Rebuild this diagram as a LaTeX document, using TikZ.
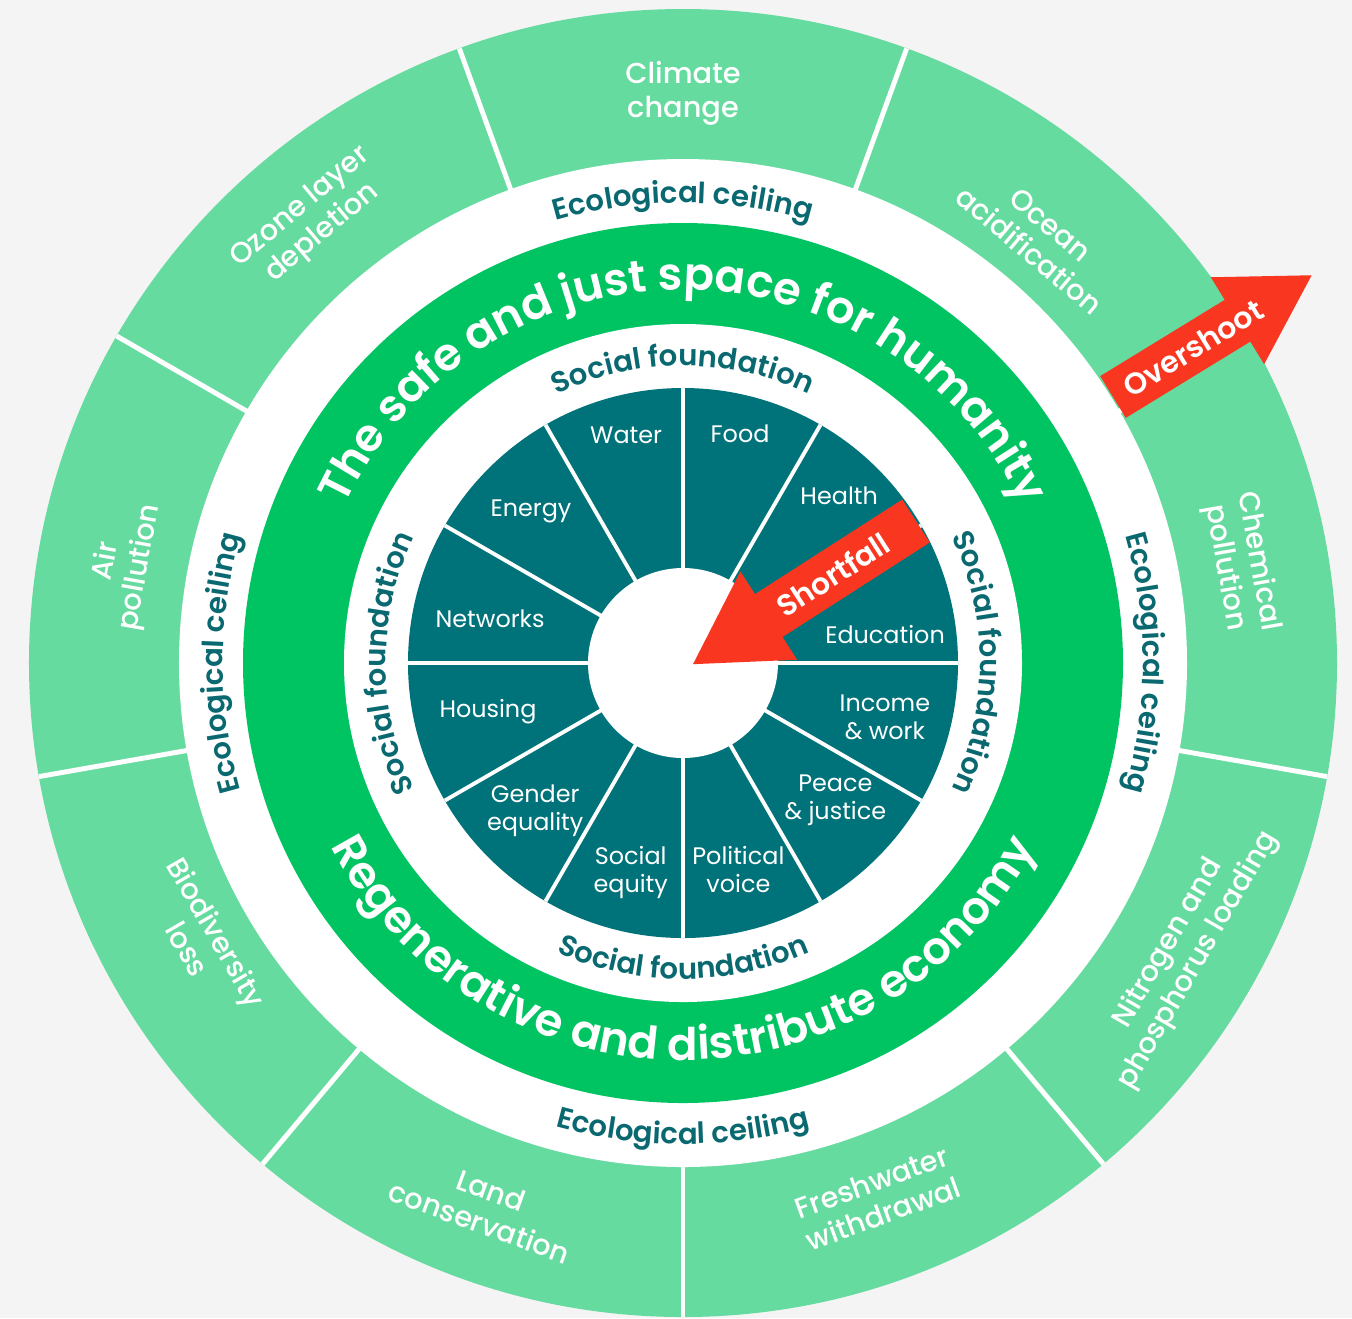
\documentclass[tikz,border=0pt]{standalone}
\usepackage{fontspec}
\setmainfont{Poppins}
\newfontfamily\medfont{Poppins Medium}
\newfontfamily\semifont{Poppins SemiBold}
\usepackage{tikz}
\usetikzlibrary{decorations.text}

\definecolor{pagegray}{HTML}{F4F4F4}
\definecolor{ceilgreen}{HTML}{66DBA0}
\definecolor{bandgreen}{HTML}{00C462}
\definecolor{needteal}{HTML}{00737A}
\definecolor{ringteal}{HTML}{0A6970}
\definecolor{arrowred}{HTML}{F93720}

% fonts for the curved ring texts
\newcommand\ringfont{\semifont\fontsize{8.3}{10}\selectfont\color{ringteal}}
\newcommand\bandfont{\semifont\fontsize{12.8}{15}\selectfont\color{white}}

\begin{document}
\begin{tikzpicture}[
    seglabel/.style={text=white, align=center, font=\medfont\fontsize{8.2}{9.6}\selectfont},
    needlabel/.style={text=white, align=center, font=\fontsize{6.8}{8}\selectfont},
    arrowlabel/.style={text=white, font=\semifont\fontsize{8.5}{10}\selectfont},
    sep/.style={white, line width=1.4pt},
    needsep/.style={white, line width=1.1pt}
  ]
    \fill[pagegray] (-6.83,-6.55) rectangle (6.69,6.63);
    \useasboundingbox (-6.83,-6.55) rectangle (6.69,6.63);

    % ecological ceiling ring
    \fill[ceilgreen] (0,0) circle (6.54);
    \fill[white] (0,0) circle (5.04);
    \draw[sep] (110:5.0) -- (110:6.54);
    \draw[sep] (70:5.0) -- (70:6.54);
    \draw[sep] (30:5.0) -- (30:6.54);
    \draw[sep] (-10:5.0) -- (-10:6.54);
    \draw[sep] (-50:5.0) -- (-50:6.54);
    \draw[sep] (-90:5.0) -- (-90:6.54);
    \draw[sep] (-130:5.0) -- (-130:6.54);
    \draw[sep] (-170:5.0) -- (-170:6.54);
    \draw[sep] (150:5.0) -- (150:6.54);

    % safe and just space
    \fill[bandgreen] (0,0) circle (4.40);
    \fill[white] (0,0) circle (3.39);

    % social foundation
    \fill[needteal] (0,0) circle (2.75);
    \draw[needsep] (0:0.9) -- (0:2.75);
    \draw[needsep] (30:0.9) -- (30:2.75);
    \draw[needsep] (60:0.9) -- (60:2.75);
    \draw[needsep] (90:0.9) -- (90:2.75);
    \draw[needsep] (120:0.9) -- (120:2.75);
    \draw[needsep] (150:0.9) -- (150:2.75);
    \draw[needsep] (180:0.9) -- (180:2.75);
    \draw[needsep] (210:0.9) -- (210:2.75);
    \draw[needsep] (240:0.9) -- (240:2.75);
    \draw[needsep] (270:0.9) -- (270:2.75);
    \draw[needsep] (300:0.9) -- (300:2.75);
    \draw[needsep] (330:0.9) -- (330:2.75);
    \fill[white] (0,0) circle (0.95);

    % outer labels
    \node[seglabel] (climate) at (90:5.70) {Climate\\change};
    \node[seglabel, rotate=-40] (ocean) at (50:5.55) {Ocean\\acidification};
    \node[seglabel, rotate=-80] (chemical) at (10:5.67) {Chemical\\pollution};
    \node[seglabel, rotate=60] (nitrogen) at (-30:5.78) {Nitrogen and\\phosphorus loading};
    \node[seglabel, rotate=20] (freshwater) at (-70:5.69) {Freshwater\\withdrawal};
    \node[seglabel, rotate=-20] (land) at (-110:5.78) {Land\\conservation};
    \node[seglabel, rotate=-60] (biodiv) at (-150:5.55) {Biodiversity\\loss};
    \node[seglabel, rotate=80] (air) at (170:5.68) {Air\\pollution};
    \node[seglabel, rotate=40] (ozone) at (130:5.78) {Ozone layer\\depletion};

    % inner labels
    \node[needlabel] (water) at (104:2.35) {Water};
    \node[needlabel] (food) at (76:2.36) {Food};
    \node[needlabel] (health) at (47:2.29) {Health};
    \node[needlabel] (education) at (8:2.04) {Education};
    \node[needlabel] (income) at (-15:2.09) {Income\\\& work};
    \node[needlabel] (peace) at (-42:2.05) {Peace\\\& justice};
    \node[needlabel] (political) at (-75:2.14) {Political\\voice};
    \node[needlabel] (equity) at (-104:2.16) {Social\\equity};
    \node[needlabel] (gender) at (-135:2.09) {Gender\\equality};
    \node[needlabel] (housing) at (-166:2.01) {Housing};
    \node[needlabel] (networks) at (167:1.98) {Networks};
    \node[needlabel] (energy) at (135:2.15) {Energy};

    % curved ring texts
    \path[decorate, decoration={text along path, text align=center,
        text={|\ringfont|Ecological ceiling}}] (200:4.60) arc[start angle=200, end angle=-20, radius=4.60];
    \path[decorate, decoration={text along path, text align=center,
        text={|\ringfont|Ecological ceiling}}] (80:4.60) arc[start angle=80, end angle=-80, radius=4.60];
    \path[decorate, decoration={text along path, text align=center,
        text={|\ringfont|Ecological ceiling}}] (260:4.60) arc[start angle=260, end angle=100, radius=4.60];
    \path[decorate, decoration={text along path, text align=center,
        text={|\ringfont|Ecological ceiling}}] (160:4.81) arc[start angle=160, end angle=380, radius=4.81];

    \path[decorate, decoration={text along path, text align=center,
        text={|\ringfont|Social foundation}}] (200:2.97) arc[start angle=200, end angle=-20, radius=2.97];
    \path[decorate, decoration={text along path, text align=center,
        text={|\ringfont|Social foundation}}] (80:2.97) arc[start angle=80, end angle=-80, radius=2.97];
    \path[decorate, decoration={text along path, text align=center,
        text={|\ringfont|Social foundation}}] (260:2.97) arc[start angle=260, end angle=100, radius=2.97];
    \path[decorate, decoration={text along path, text align=center,
        text={|\ringfont|Social foundation}}] (160:3.16) arc[start angle=160, end angle=380, radius=3.16];

    \path[decorate, decoration={text along path, text align=center,
        text={|\bandfont|The safe and just space for humanity}}] (200:3.73) arc[start angle=200, end angle=-20, radius=3.73];
    \path[decorate, decoration={text along path, text align=center,
        text={|\bandfont|Regenerative and distribute economy}}] (160:3.97) arc[start angle=160, end angle=380, radius=3.97];

    % overshoot arrow
    \begin{scope}[shift={(4.30,2.66)}, rotate=31.5]
        \fill[arrowred] (0,-0.245) -- (1.46,-0.245) -- (1.46,-0.51) -- (2.33,0) -- (1.46,0.51) -- (1.46,0.245) -- (0,0.245) -- cycle;
        \node[arrowlabel, rotate=31.5] (overshoot) at (0.94,0) {Overshoot};
    \end{scope}

    % shortfall arrow
    \begin{scope}[shift={(2.33,1.42)}, rotate=212.7]
        \fill[arrowred] (0,-0.255) -- (1.75,-0.255) -- (1.75,-0.525) -- (2.65,0) -- (1.75,0.525) -- (1.75,0.255) -- (0,0.255) -- cycle;
        \node[arrowlabel, rotate=32.7] (shortfall) at (0.99,0) {Shortfall};
    \end{scope}
\end{tikzpicture}
\end{document}
